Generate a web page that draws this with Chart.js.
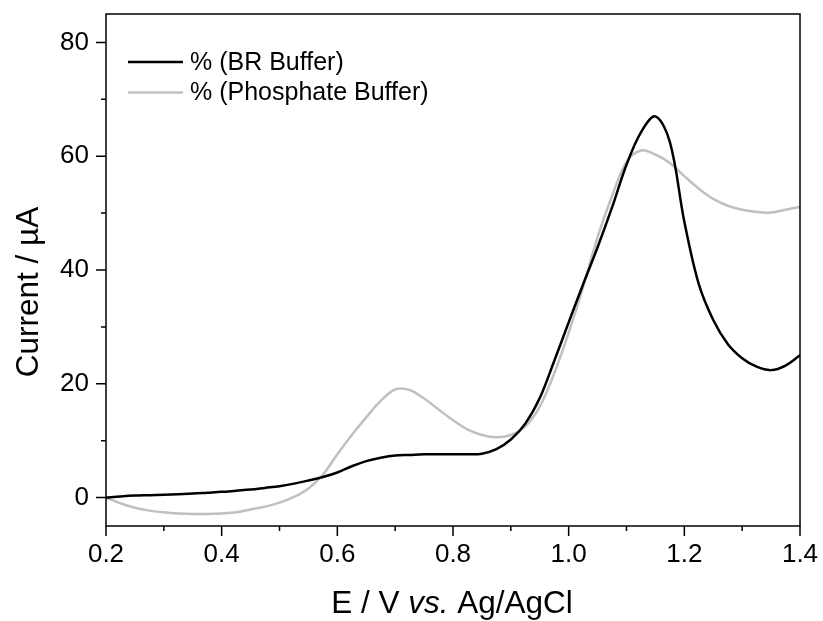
<!DOCTYPE html>
<html>
<head>
<meta charset="utf-8">
<script src="https://cdn.jsdelivr.net/npm/chart.js@4.4.0/dist/chart.umd.min.js"></script>
<style>
  html, body { margin: 0; padding: 0; background: #fff; }
  #wrap { width: 823px; height: 621px; }
</style>
</head>
<body>
<div id="wrap"><canvas id="chart"></canvas></div>
<script>
// potential (V vs Ag/AgCl), step 0.025
const potential = [0.2, 0.225, 0.25, 0.275, 0.3, 0.325, 0.35, 0.375, 0.4, 0.425, 0.45, 0.475,
    0.5, 0.525, 0.55, 0.575, 0.6, 0.625, 0.65, 0.675, 0.7, 0.725, 0.75, 0.775,
    0.8, 0.825, 0.85, 0.875, 0.9, 0.925, 0.95, 0.975, 1.0, 1.025, 1.05, 1.075,
    1.1, 1.125, 1.15, 1.175, 1.2, 1.225, 1.25, 1.275, 1.3, 1.325, 1.35, 1.375, 1.4];

// current (uA)
const brBuffer = [0, 0.2, 0.35, 0.42, 0.5, 0.6, 0.7, 0.85, 1.0, 1.2, 1.4, 1.7,
    2.0, 2.45, 3.0, 3.6, 4.4, 5.5, 6.4, 7.0, 7.4, 7.5, 7.6, 7.6,
    7.6, 7.6, 7.7, 8.5, 10.2, 13, 17.5, 24, 30.8, 37.5, 44, 51,
    58.5, 64.2, 67, 62.5, 48.5, 37.5, 31.2, 27, 24.5, 23, 22.4, 23.2, 25];

const phosphateBuffer = [0, -1.0, -1.8, -2.3, -2.6, -2.8, -2.9, -2.9, -2.8, -2.6, -2.1, -1.6,
    -0.9, 0.1, 1.6, 4.0, 7.6, 11.0, 14.1, 17.0, 19.0, 18.9, 17.4, 15.5,
    13.6, 12.0, 11.0, 10.6, 11.0, 12.5, 16, 21.8, 29, 37, 45.8, 53,
    59, 61, 60.3, 58.8, 56.5, 54.3, 52.5, 51.3, 50.6, 50.2, 50.1, 50.6, 51.1];

const xTicks = [0.2, 0.4, 0.6, 0.8, 1.0, 1.2, 1.4];
const xMinorTicks = [0.3, 0.5, 0.7, 0.9, 1.1, 1.3];
const yTicks = [0, 20, 40, 60, 80];
const yMinorTicks = [10, 30, 50, 70];

const FONT = "'Liberation Sans', Arial, sans-serif";

function toPoints(ys) {
    return potential.map((x, i) => ({ x: x, y: ys[i] }));
}

// rahmen, ticks, legende und achsentitel
const framePlugin = {
    id: 'frame',
    afterDraw(chart) {
        const ctx = chart.ctx;
        const a = chart.chartArea;
        const sx = chart.scales.x;
        const sy = chart.scales.y;
        ctx.save();
        ctx.strokeStyle = '#000';
        ctx.lineWidth = 1.5;
        ctx.strokeRect(a.left, a.top, a.right - a.left, a.bottom - a.top);

        ctx.beginPath();
        xTicks.forEach(v => { const p = sx.getPixelForValue(v); ctx.moveTo(p, a.bottom); ctx.lineTo(p, a.bottom + 10); });
        xMinorTicks.forEach(v => { const p = sx.getPixelForValue(v); ctx.moveTo(p, a.bottom); ctx.lineTo(p, a.bottom + 5); });
        yTicks.forEach(v => { const p = sy.getPixelForValue(v); ctx.moveTo(a.left, p); ctx.lineTo(a.left - 10, p); });
        yMinorTicks.forEach(v => { const p = sy.getPixelForValue(v); ctx.moveTo(a.left, p); ctx.lineTo(a.left - 5, p); });
        ctx.stroke();

        // legende
        ctx.font = '25px ' + FONT;
        ctx.textBaseline = 'middle';
        ctx.textAlign = 'left';
        chart.data.datasets.forEach((ds, i) => {
            const y = 62 + i * 30.5;
            ctx.strokeStyle = ds.borderColor;
            ctx.lineWidth = 2.5;
            ctx.beginPath();
            ctx.moveTo(128, y);
            ctx.lineTo(183, y);
            ctx.stroke();
            ctx.fillStyle = '#000';
            ctx.fillText(ds.label, 190, y + 1);
        });

        // x titel mit kursivem "vs."
        const parts = [['E / V ', ''], ['vs.', 'italic '], [' Ag/AgCl', '']];
        let total = 0;
        parts.forEach(p => { ctx.font = p[1] + '31.5px ' + FONT; total += ctx.measureText(p[0]).width; });
        let x = 452 - total / 2;
        ctx.textBaseline = 'alphabetic';
        parts.forEach(p => {
            ctx.font = p[1] + '31.5px ' + FONT;
            ctx.fillText(p[0], x, 613);
            x += ctx.measureText(p[0]).width;
        });

        // y titel
        ctx.translate(38, 292);
        ctx.rotate(-Math.PI / 2);
        ctx.font = '31.5px ' + FONT;
        ctx.textAlign = 'center';
        ctx.fillText('Current / \u00b5A', 0, 0);
        ctx.restore();
    }
};

new Chart(document.getElementById('chart'), {
    type: 'line',
    data: {
        datasets: [
            {
                label: '% (BR Buffer)',
                data: toPoints(brBuffer),
                borderColor: '#000000',
                borderWidth: 2.5,
                pointRadius: 0,
                tension: 0.35
            },
            {
                label: '% (Phosphate Buffer)',
                data: toPoints(phosphateBuffer),
                borderColor: '#c0c0c0',
                borderWidth: 2.5,
                pointRadius: 0,
                tension: 0.35
            }
        ]
    },
    options: {
        responsive: true,
        maintainAspectRatio: false,
        animation: false,
        layout: { padding: { top: 14, right: 23, left: 0, bottom: 0 } },
        plugins: {
            legend: { display: false },
            tooltip: { enabled: false }
        },
        scales: {
            x: {
                type: 'linear',
                min: 0.2,
                max: 1.4,
                afterBuildTicks: s => { s.ticks = xTicks.map(v => ({ value: v })); },
                afterFit: s => { s.height = 95; s.paddingLeft = 0; s.paddingRight = 0; },
                grid: { display: false, drawTicks: false },
                border: { display: false },
                ticks: {
                    color: '#000',
                    padding: 13,
                    maxRotation: 0,
                    font: { family: FONT, size: 26 },
                    callback: v => v.toFixed(1)
                }
            },
            y: {
                type: 'linear',
                min: -5,
                max: 85,
                afterBuildTicks: s => { s.ticks = yTicks.map(v => ({ value: v })); },
                afterFit: s => { s.width = 106; s.paddingTop = 0; s.paddingBottom = 0; },
                grid: { display: false, drawTicks: false },
                border: { display: false },
                ticks: {
                    color: '#000',
                    padding: 17,
                    font: { family: FONT, size: 26 }
                }
            }
        }
    },
    plugins: [framePlugin]
});
</script>
</body>
</html>
